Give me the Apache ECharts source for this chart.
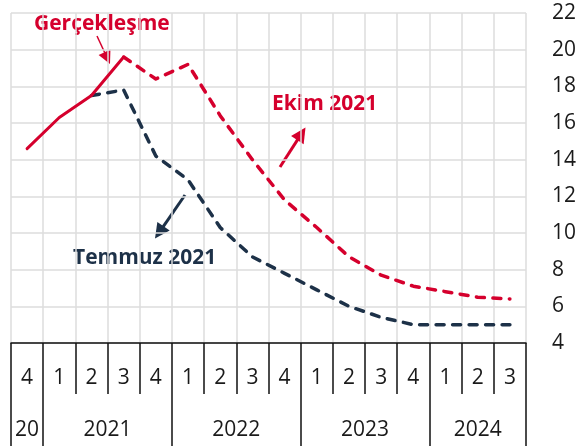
<!DOCTYPE html>
<html>
<head>
<meta charset="utf-8">
<script src="https://cdn.jsdelivr.net/npm/echarts@6/dist/echarts.min.js"></script>
<style>
  html, body { margin: 0; padding: 0; background: #fff; }
  #chart { width: 579px; height: 446px; }
</style>
</head>
<body>
<div id="chart"></div>
<script>
// Quarter labels (2020Q4 .. 2024Q3)
const quarters = ['4', '1', '2', '3', '4', '1', '2', '3', '4', '1', '2', '3', '4', '1', '2', '3'];
// Year groups: label and its span in quarters
const years = ['20', '2021', '2022', '2023', '2024'];
const yearSpans = [1, 4, 4, 4, 3];

// Realised inflation path
const actual = [14.6, 16.3, 17.5, 19.6, null, null, null, null, null, null, null, null, null, null, null, null];
// October 2021 forecast path
const ekim2021 = [null, null, null, 19.6, 18.4, 19.2, 16.4, 14.0, 11.8, 10.3, 8.7, 7.7, 7.1, 6.8, 6.5, 6.4];
// July 2021 forecast path
const temmuz2021 = [null, null, 17.5, 17.8, 14.2, 12.9, 10.3, 8.7, 7.8, 6.9, 6.0, 5.4, 5.0, 5.0, 5.0, 5.0];

// Y-axis range
const yMin = 4, yMax = 22, yStep = 2;

const RED = '#d5002d';
const NAVY = '#1d3148';
const FONT = '"Open Sans", "Noto Sans", sans-serif';

// Year boundaries as quarter indices, and year-label centres
const bounds = [0];
yearSpans.forEach(s => bounds.push(bounds[bounds.length - 1] + s));
const yearCentres = {};
years.forEach((y, i) => { yearCentres[(bounds[i] + bounds[i + 1]) / 2] = y; });

function arrow(x1, y1, x2, y2, color, width, headLen, headW) {
  const dx = x2 - x1, dy = y2 - y1;
  const L = Math.sqrt(dx * dx + dy * dy);
  const ux = dx / L, uy = dy / L;
  const bx = x2 - ux * headLen, by = y2 - uy * headLen;
  const px = -uy, py = ux;
  return [
    { type: 'line', shape: { x1: x1, y1: y1, x2: bx + ux * 2, y2: by + uy * 2 },
      style: { stroke: color, lineWidth: width } },
    { type: 'polygon',
      shape: { points: [[x2, y2], [bx + px * headW / 2, by + py * headW / 2], [bx - px * headW / 2, by - py * headW / 2]] },
      style: { fill: color } }
  ];
}

const dashStyle = (color) => ({
  color: color, width: 3.5, type: [8, 8.5], cap: 'round', join: 'round'
});

const chart = echarts.init(document.getElementById('chart'), null, { renderer: 'canvas' });

chart.setOption({
  animation: false,
  backgroundColor: '#ffffff',
  grid: { left: 11, right: 53, top: 13, bottom: 103, containLabel: false },
  xAxis: [
    {
      type: 'category',
      data: quarters,
      position: 'bottom',
      boundaryGap: true,
      axisLine: { show: true, lineStyle: { color: '#111', width: 1.5 } },
      axisTick: { show: true, interval: 0, length: 51, lineStyle: { color: '#111', width: 1.5 } },
      axisLabel: { interval: 0, margin: 25, fontSize: 21, color: '#1a1a1a', fontFamily: FONT },
      splitLine: { show: true, interval: 0, lineStyle: { color: '#dcdcdc', width: 1.5 } }
    },
    {
      type: 'category',
      data: quarters,
      position: 'bottom',
      boundaryGap: true,
      axisLine: { show: false },
      axisTick: {
        show: true, length: 103, lineStyle: { color: '#111', width: 1.5 },
        interval: (i) => bounds.indexOf(i) >= 0
      },
      axisLabel: { show: false },
      splitLine: { show: false }
    },
    {
      type: 'value',
      min: 0, max: quarters.length, interval: 0.5,
      position: 'bottom',
      axisLine: { show: false },
      axisTick: { show: false },
      splitLine: { show: false },
      axisLabel: {
        margin: 77, fontSize: 21, color: '#1a1a1a', fontFamily: FONT,
        showMinLabel: true, showMaxLabel: true,
        formatter: (v) => yearCentres[v] || ''
      }
    }
  ],
  yAxis: {
    type: 'value',
    position: 'right',
    min: yMin, max: yMax, interval: yStep,
    axisLine: { show: false },
    axisTick: { show: false },
    axisLabel: { margin: 26, fontSize: 21, color: '#1a1a1a', fontFamily: FONT },
    splitLine: { show: true, lineStyle: { color: '#dcdcdc', width: 1.5 } }
  },
  series: [
    {
      name: 'Temmuz 2021', type: 'line', data: temmuz2021, xAxisIndex: 0,
      symbol: 'none', connectNulls: false, z: 3,
      lineStyle: dashStyle(NAVY)
    },
    {
      name: 'Ekim 2021', type: 'line', data: ekim2021, xAxisIndex: 0,
      symbol: 'none', connectNulls: false, z: 4,
      lineStyle: dashStyle(RED)
    },
    {
      name: 'Gerçekleşme', type: 'line', data: actual, xAxisIndex: 0,
      symbol: 'none', connectNulls: false, z: 5,
      lineStyle: { color: RED, width: 3, cap: 'round', join: 'round' }
    }
  ],
  graphic: [
    { type: 'text', left: 34, top: 14,
      style: { text: 'Gerçekleşme', fill: RED, font: 'bold 21px ' + FONT } },
    { type: 'text', left: 272, top: 94,
      style: { text: 'Ekim 2021', fill: RED, font: 'bold 21px ' + FONT } },
    { type: 'text', left: 73, top: 248,
      style: { text: 'Temmuz 2021', fill: NAVY, font: 'bold 21px ' + FONT } },
    ...arrow(97, 36, 110, 64, RED, 1.5, 13, 13),
    ...arrow(280, 167, 305.5, 127.5, RED, 3, 15, 15),
    ...arrow(185, 195, 155, 238.5, NAVY, 3, 15, 15)
  ]
});
</script>
</body>
</html>
